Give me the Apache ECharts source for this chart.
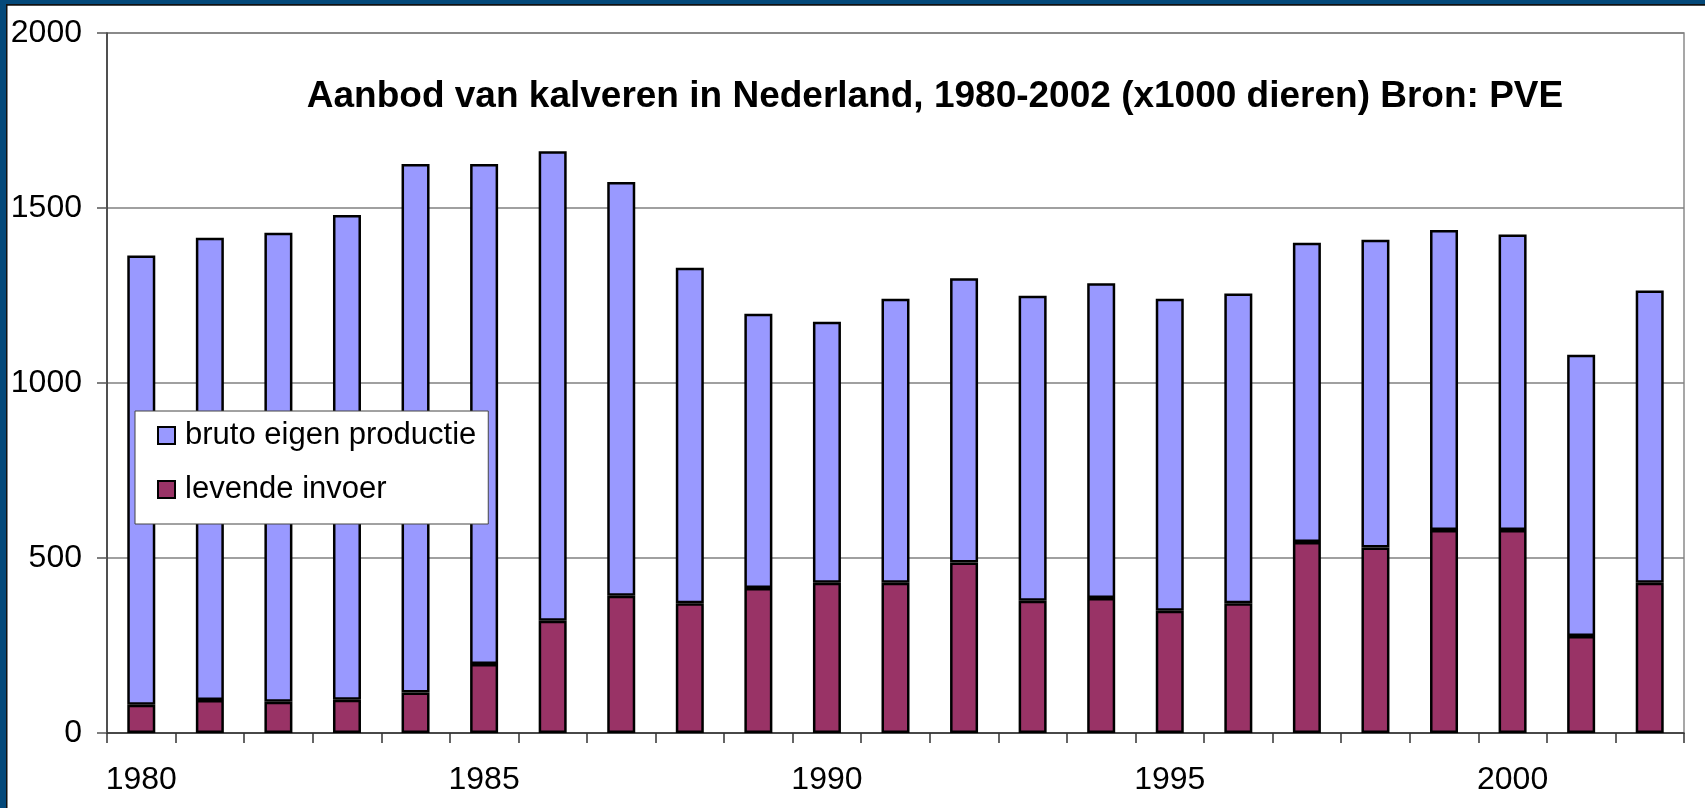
<!DOCTYPE html>
<html>
<head>
<meta charset="utf-8">
<script src="https://cdn.jsdelivr.net/npm/echarts@6/dist/echarts.min.js"></script>
<style>
html,body{margin:0;padding:0;background:#fff;}
#chart{width:1705px;height:808px;}
</style>
</head>
<body>
<div id="chart"></div>
<script>
var years = ['1980','1981','1982','1983','1984','1985','1986','1987','1988','1989','1990','1991','1992','1993','1994','1995','1996','1997','1998','1999','2000','2001','2002'];
var levendeInvoer = [81,94,89,95,116,197,321,392,371,414,429,429,487,378,386,349,371,546,530,580,580,277,429];
var brutoEigenProductie = [1283,1321,1340,1385,1510,1429,1341,1182,958,784,746,812,812,871,899,892,885,855,879,857,844,804,835];
var yTicks = [0,500,1000,1500,2000];
var titleText = 'Aanbod van kalveren in Nederland, 1980-2002 (x1000 dieren) Bron: PVE';

var chart = echarts.init(document.getElementById('chart'), null, {renderer:'canvas'});
var FONT = '"Liberation Sans", Arial, sans-serif';
var option = {
  backgroundColor:'#ffffff',
  animation:false,
  grid:{left:107, right:21, top:33, bottom:75, show:true, borderColor:'#8a8a8a', borderWidth:1.5, backgroundColor:'transparent'},
  legend:{
    orient:'vertical', left:135, top:411,
    data:['bruto eigen productie','levende invoer'],
    icon:'rect', itemWidth:17, itemHeight:17, itemGap:23,
    padding:[9,12,19,22],
    backgroundColor:'#ffffff', borderColor:'#444', borderWidth:1,
    textStyle:{fontFamily:FONT, fontSize:31, color:'#000', lineHeight:30, padding:[0,0,0,5]}
  },
  xAxis:{
    type:'category', data:years, boundaryGap:true,
    axisLine:{lineStyle:{color:'#333', width:1.5}},
    axisTick:{show:true, interval:0, length:10, lineStyle:{color:'#333', width:1.5}},
    axisLabel:{interval:4, margin:31, fontFamily:FONT, fontSize:32, color:'#000'},
    splitLine:{show:false}
  },
  yAxis:{
    type:'value', min:yTicks[0], max:yTicks[yTicks.length-1], interval:500,
    axisLine:{show:true, lineStyle:{color:'#333', width:1.5}},
    axisTick:{show:true, length:10, lineStyle:{color:'#555', width:1.5}},
    axisLabel:{margin:25, fontFamily:FONT, fontSize:32, color:'#000', formatter:function(v){return String(v);}},
    splitLine:{show:true, lineStyle:{color:'#808080', width:1.5}}
  },
  series:[
    {name:'levende invoer', type:'bar', stack:'t', data:levendeInvoer, barWidth:28,
     itemStyle:{color:'#993366', borderColor:'#000', borderWidth:2.5}},
    {name:'bruto eigen productie', type:'bar', stack:'t', data:brutoEigenProductie, barWidth:28,
     itemStyle:{color:'#9999FF', borderColor:'#000', borderWidth:2.5}}
  ],
  graphic:[
    {type:'text', x:935, y:97, z:100, style:{text:titleText, fontFamily:FONT, fontWeight:'bold', fontSize:37, fill:'#000', textAlign:'center', textVerticalAlign:'middle'}},
    {type:'rect', shape:{x:0,y:0,width:1705,height:4}, style:{fill:'#04497A'}, z:100},
    {type:'rect', shape:{x:0,y:4,width:1705,height:1.7}, style:{fill:'#111'}, z:100},
    {type:'rect', shape:{x:0,y:0,width:6,height:808}, style:{fill:'#04497A'}, z:100},
    {type:'rect', shape:{x:6,y:4,width:1.5,height:804}, style:{fill:'#111'}, z:100}
  ]
};
chart.setOption(option);
</script>
</body>
</html>
